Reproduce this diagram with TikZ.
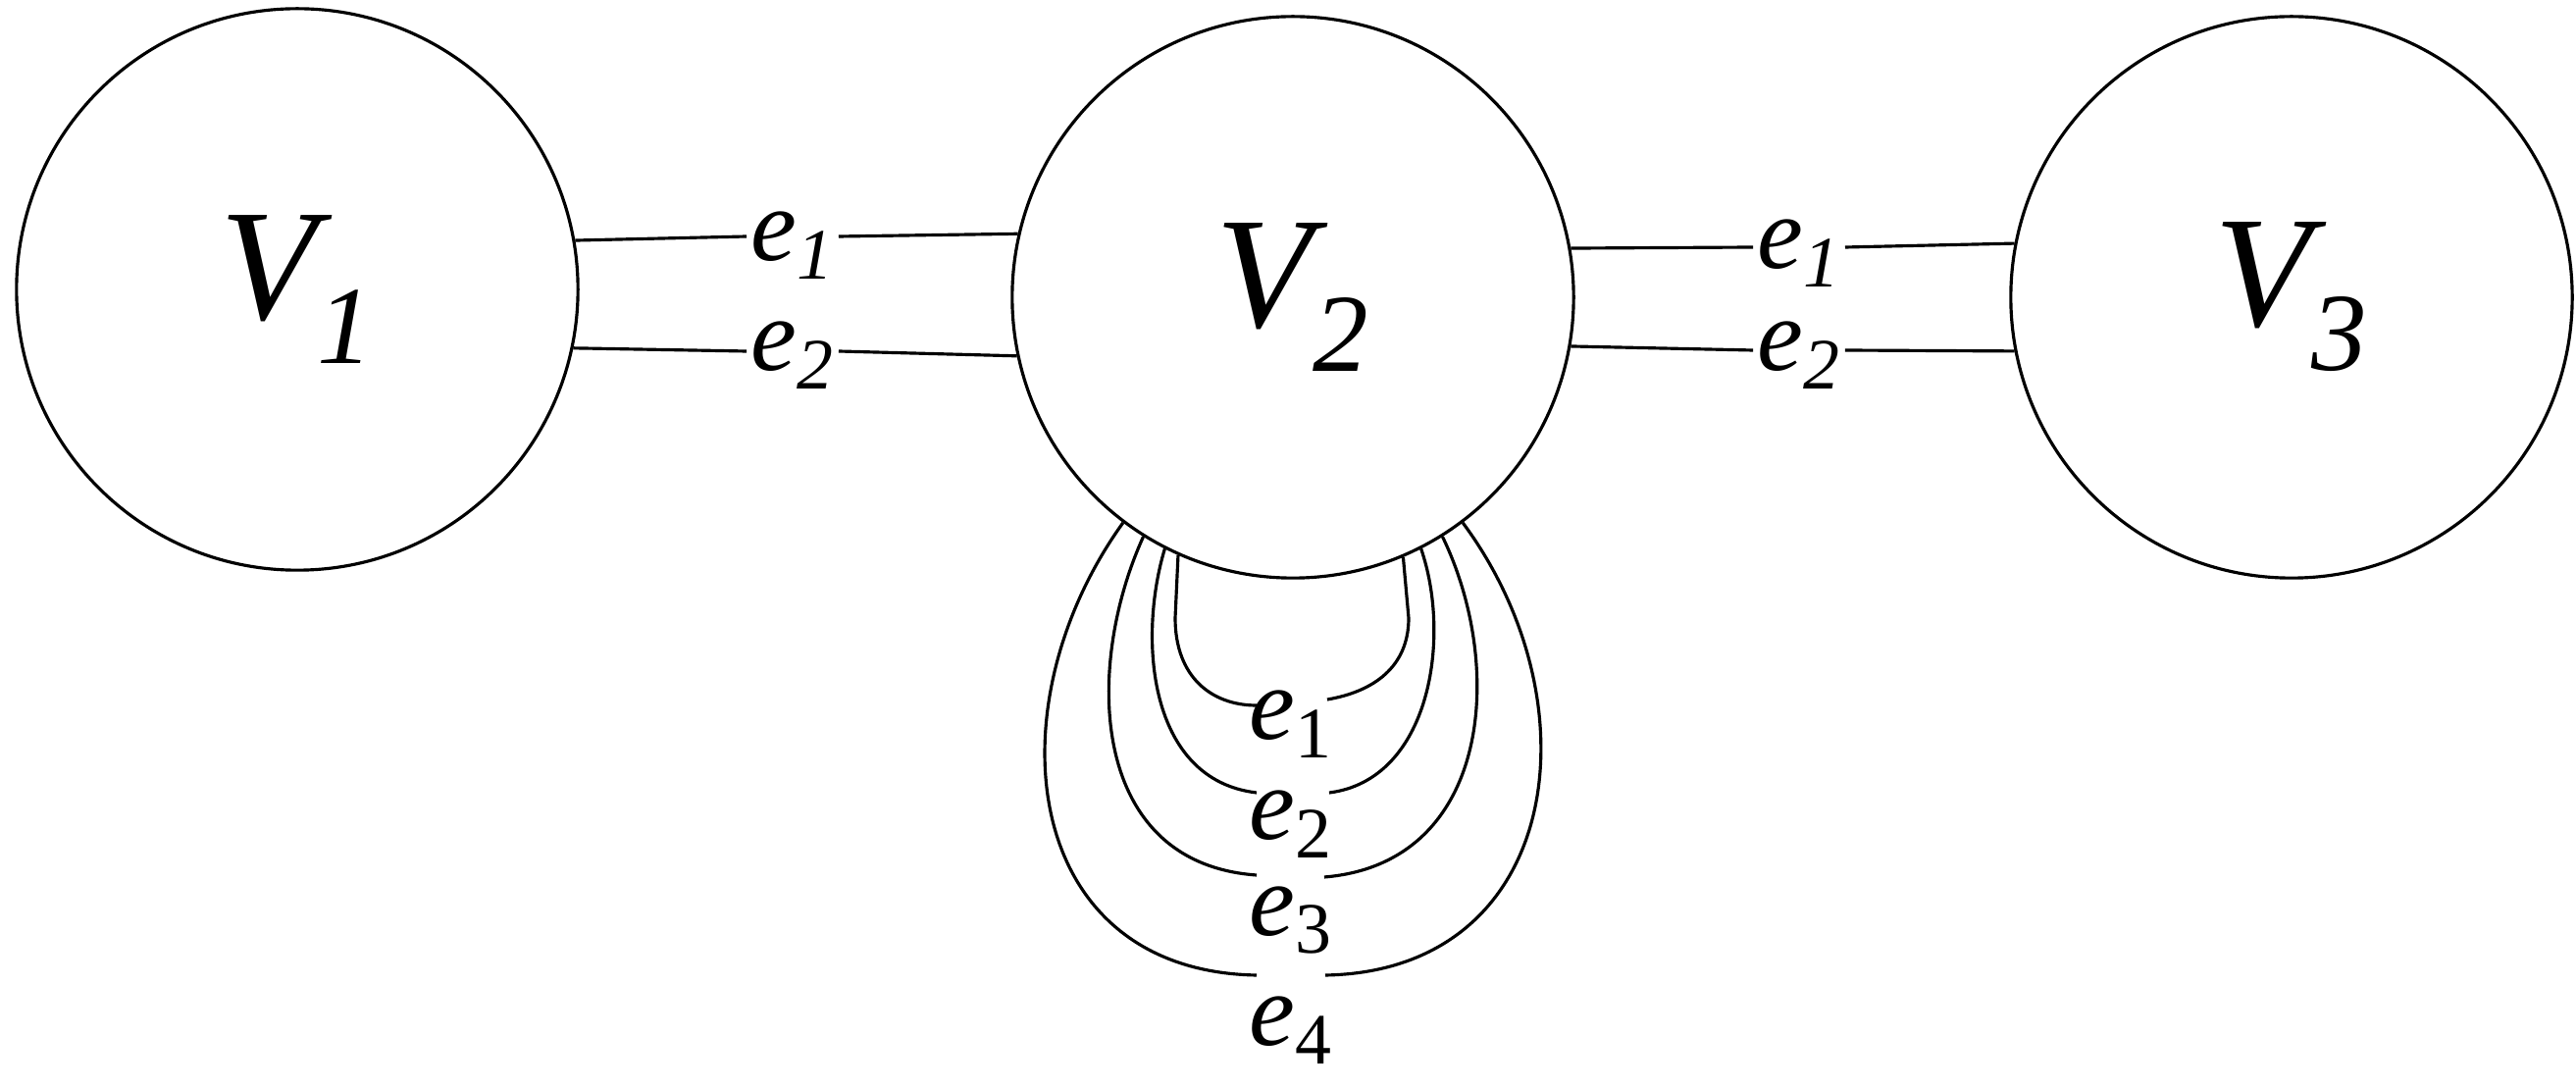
\documentclass[tikz,border=0pt]{standalone}
\usepackage{fontspec}
\setmainfont{Liberation Serif}
\begin{document}
\begin{tikzpicture}[x=0.01cm,y=-0.01cm,
  vert/.style={circle,draw,line width=0.9pt,minimum size=5.72cm,inner sep=0pt,font=\fontsize{46}{50}\selectfont\itshape},
  lab/.style={inner sep=1pt,font=\fontsize{30}{32}\selectfont},
  ln/.style={line width=0.9pt}]
\useasboundingbox (0,0) rectangle (2626,1110);
\node[vert] (V1) at (303,295) {V\textsubscript{1}};
\node[vert] (V2) at (1318,303) {V\textsubscript{2}};
\node[vert] (V3) at (2336,303) {V\textsubscript{3}};
% side edges
\node[lab] (a1) at (808,250) {\textit{e}\textsubscript{\textit{1}}};
\node[lab] (a2) at (808,362) {\textit{e}\textsubscript{\textit{2}}};
\node[lab] (b1) at (1834,258) {\textit{e}\textsubscript{\textit{1}}};
\node[lab] (b2) at (1834,362) {\textit{e}\textsubscript{\textit{2}}};
\draw[ln] (V1.10.9) -- (a1.west |- 0,241);
\draw[ln] (a1.east |- 0,241) -- (V2.167.5);
\draw[ln] (V1.-12.7) -- (a2.west |- 0,358);
\draw[ln] (a2.east |- 0,358) -- (V2.-168.9);
\draw[ln] (V2.10.3) -- (b1.west |- 0,252);
\draw[ln] (b1.east |- 0,252) -- (V3.169.7);
\draw[ln] (V2.-10.9) -- (b2.west |- 0,357);
\draw[ln] (b2.east |- 0,357) -- (V3.-169.1);
% loops
\node[lab] (l1) at (1316,738) {\textit{e}\textsubscript{1}};
\node[lab] (l2) at (1316,840) {\textit{e}\textsubscript{2}};
\node[lab] (l3) at (1316,938) {\textit{e}\textsubscript{3}};
\node[lab] (l4) at (1316,1050) {\textit{e}\textsubscript{4}};
\coordinate (l1a) at (1281,719); \coordinate (l1b) at (1353,713);
\coordinate (l2a) at (1281,808); \coordinate (l2b) at (1355,808);
\coordinate (l3a) at (1281,892); \coordinate (l3b) at (1350,894);
\coordinate (l4a) at (1281,994); \coordinate (l4b) at (1351,994);
\draw[ln] (V2.-114) -- (1198,630) .. controls (1198,690) and (1235,719) .. (l1a);
\draw[ln] (l1b) .. controls (1400,705) and (1436,680) .. (1436,630) -- (V2.-67);
\draw[ln] (V2.-117.5) .. controls (1160,650) and (1170,795) .. (l2a);
\draw[ln] (l2b) .. controls (1458,795) and (1480,650) .. (V2.-63.5);
\draw[ln] (V2.-122.5) .. controls (1105,680) and (1110,880) .. (l3a);
\draw[ln] (l3b) .. controls (1520,880) and (1535,680) .. (V2.-58);
\draw[ln] (V2.-127) .. controls (1010,720) and (1040,990) .. (l4a);
\draw[ln] (l4b) .. controls (1590,990) and (1630,720) .. (V2.-53);
\end{tikzpicture}
\end{document}
